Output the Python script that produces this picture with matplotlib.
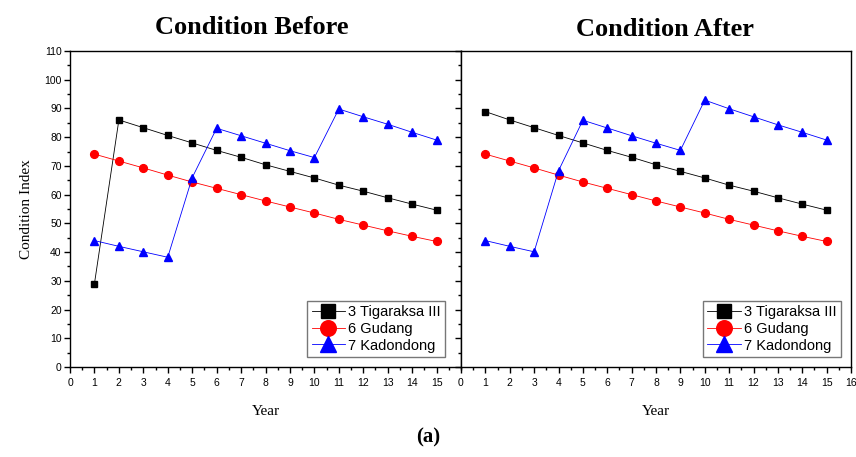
import numpy as np
import matplotlib
matplotlib.use("Agg")
import matplotlib.pyplot as plt
from matplotlib.ticker import MultipleLocator

years = list(range(1, 16))

# Condition Before
before_tigaraksa = [29.0, 86.0, 83.3, 80.6, 78.0, 75.4, 73.0, 70.4, 68.1, 65.8, 63.3, 61.2, 58.9, 56.7, 54.6]
before_gudang = [74.1, 71.7, 69.3, 66.8, 64.4, 62.2, 60.0, 57.8, 55.7, 53.6, 51.4, 49.4, 47.4, 45.5, 43.7]
before_kadondong = [44.0, 42.0, 40.1, 38.2, 65.9, 83.1, 80.5, 77.9, 75.3, 72.9, 89.8, 87.1, 84.5, 81.7, 79.0]

# Condition After
after_tigaraksa = [88.9, 86.0, 83.3, 80.6, 78.0, 75.4, 73.0, 70.4, 68.1, 65.8, 63.3, 61.2, 58.9, 56.7, 54.6]
after_gudang = [74.1, 71.7, 69.3, 66.8, 64.4, 62.2, 60.0, 57.8, 55.7, 53.6, 51.4, 49.4, 47.4, 45.5, 43.7]
after_kadondong = [44.0, 42.0, 40.1, 68.3, 85.9, 83.2, 80.5, 77.9, 75.4, 92.9, 89.9, 87.1, 84.3, 81.7, 79.0]

labels = ["3 Tigaraksa III", "6 Gudang", "7 Kadondong"]
colors = ["black", "red", "blue"]
markers = ["s", "o", "^"]
msizes = [5, 5.6, 6]

serif = "Liberation Serif"
sans = "Liberation Sans"

fig = plt.figure(figsize=(8.56, 4.57), dpi=100)
ax1 = fig.add_axes([70/856, 1-367/457, 391/856, 316/457])
ax2 = fig.add_axes([461/856, 1-367/457, 390/856, 316/457])

def draw(ax, series, show_y, leg_anchor):
    for s, c, m, ms, lab in zip(series, colors, markers, msizes, labels):
        ax.plot(years, s, color=c, marker=m, markersize=ms, lw=0.6,
                markeredgecolor=c, label=lab)
    ax.set_xlim(0, 16)
    ax.set_ylim(0, 110)
    ax.xaxis.set_major_locator(MultipleLocator(1))
    ax.xaxis.set_minor_locator(MultipleLocator(0.5))
    ax.yaxis.set_major_locator(MultipleLocator(10))
    ax.yaxis.set_minor_locator(MultipleLocator(5))
    ax.tick_params(which="both", direction="out", width=1.0)
    ax.tick_params(which="major", length=4, labelsize=7.5)
    ax.tick_params(which="minor", length=2.5)
    ax.tick_params(axis="x", pad=4)
    ax.tick_params(axis="y", left=True, pad=2)
    for lbl in ax.get_xticklabels() + ax.get_yticklabels():
        lbl.set_family(sans)
    if not show_y:
        ax.tick_params(axis="y", labelleft=False)
    for sp in ax.spines.values():
        sp.set_linewidth(1.0)
    ax.set_xlabel("Year", family=serif, fontsize=11, labelpad=12)
    leg = ax.legend(loc="lower right", bbox_to_anchor=leg_anchor,
                    prop={"family": sans, "size": 10.5},
                    frameon=True, fancybox=False, edgecolor="#555555",
                    handlelength=2.3, handletextpad=0.2, borderpad=0.3,
                    labelspacing=0.18, borderaxespad=0.0, markerscale=2.0)
    leg.get_frame().set_linewidth(1.0)

draw(ax1, [before_tigaraksa, before_gudang, before_kadondong], True, (0.959, 0.032))
draw(ax2, [after_tigaraksa, after_gudang, after_kadondong], False, (0.974, 0.032))
ax1.set_ylabel("Condition Index", family=serif, fontsize=11, labelpad=8)
# left panel's "16" sits under the right panel's "0"
ax1.set_xticks(range(0, 16))
ax1.set_xticklabels([str(i) for i in range(0, 16)], family=sans)

fig.text(252/856, 1-27/457, "Condition Before", family=serif, weight="bold",
         fontsize=19, ha="center", va="center")
fig.text(665/856, 1-29/457, "Condition After", family=serif, weight="bold",
         fontsize=19, ha="center", va="center")
fig.text(428/856, 1-437/457, "(a)", family=serif, weight="bold",
         fontsize=15, ha="center", va="center")

fig.savefig("out.png", dpi=100)
